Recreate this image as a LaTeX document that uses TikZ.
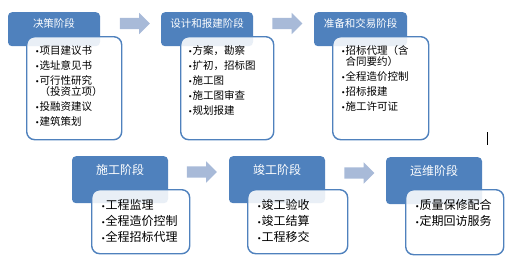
\documentclass[tikz,border=0pt]{standalone}
\usepackage{fontspec}
\setmainfont{Noto Sans CJK SC}
\newfontfamily\bulfont{DejaVu Sans}
\usetikzlibrary{shapes.arrows,positioning}

\definecolor{stageblue}{RGB}{79,129,189}
\definecolor{flowblue}{RGB}{168,186,216}
\newcommand{\bul}{{\bulfont\fontsize{7.5}{7.5}\selectfont •}}

\begin{document}
\begin{tikzpicture}[x=1pt, y=-1pt,
  stage/.style={rectangle, fill=stageblue, rounded corners=4pt, text=white, anchor=north,
                inner xsep=0pt, inner ysep=3pt},
  topstage/.style={stage, minimum width=92pt, font=\fontsize{10.5}{12}\selectfont,
                   text height=12pt, text depth=16pt},
  lowstage/.style={stage, minimum width=96pt, font=\fontsize{12}{14}\selectfont,
                   text height=15.6pt, text depth=25.4pt},
  panel/.style={rectangle, draw=stageblue, line width=1.4pt, fill=white, fill opacity=0.88,
                rounded corners=8pt, anchor=north west, inner sep=0pt},
  items/.style={align=left, inner sep=0pt},
  topitems/.style={items, font=\fontsize{10.5}{11.5}\selectfont},
  lowitems/.style={items, font=\fontsize{12}{16}\selectfont},
  flow/.style={single arrow, fill=flowblue, minimum height=30pt, inner xsep=0pt,
               inner ysep=5.5pt, single arrow head extend=5pt},
]
\useasboundingbox (0,0) rectangle (515,265);

% upper row
\node[topstage] (s1) at (54,12) {决策阶段};
\node[topstage] (s2) at (207,12) {设计和报建阶段};
\node[topstage, minimum width=93pt] (s3) at (360.5,12) {准备和交易阶段};

\node[panel, minimum width=95pt, minimum height=103pt] (p1) at (26,36) {};
\node[panel, minimum width=93pt, minimum height=103pt] (p2) at (180,36) {};
\node[panel, minimum width=96pt, minimum height=103pt] (p3) at (332,36) {};

\node[topitems, below right=9pt and 9pt of p1.north west] (t1)
  {\bul{}项目建议书\\[3.5pt]\bul{}选址意见书\\[3.5pt]\bul{}可行性研究\\\hphantom{\bul}（投资立项）\\[3.5pt]\bul{}投融资建议\\[3.5pt]\bul{}建筑策划};
\node[topitems, below right=9pt and 8pt of p2.north west] (t2)
  {\bul{}方案，勘察\\[3.5pt]\bul{}扩初，招标图\\[3.5pt]\bul{}施工图\\[3.5pt]\bul{}施工图审查\\[3.5pt]\bul{}规划报建};
\node[topitems, below right=9pt and 9pt of p3.north west] (t3)
  {\bul{}招标代理（含\\\hphantom{\bul}合同要约）\\[3.5pt]\bul{}全程造价控制\\[3.5pt]\bul{}招标报建\\[3.5pt]\bul{}施工许可证};

\node[flow] (f1) at (132,23.5) {};
\node[flow] (f2) at (284.5,23.5) {};

% lower row
\node[lowstage] (s4) at (120,156) {施工阶段};
\node[lowstage] (s5) at (277,156) {竣工阶段};
\node[lowstage] (s6) at (434,157) {运维阶段};

\node[panel, minimum width=98pt, minimum height=64pt] (p4) at (91,189) {};
\node[panel, minimum width=100pt, minimum height=64pt] (p5) at (247,189) {};
\node[panel, minimum width=98pt, minimum height=65pt] (p6) at (405,189) {};

\node[lowitems, below right=10pt and 10pt of p4.north west] (t4)
  {\bul{}工程监理\\\bul{}全程造价控制\\\bul{}全程招标代理};
\node[lowitems, below right=10pt and 10pt of p5.north west] (t5)
  {\bul{}竣工验收\\\bul{}竣工结算\\\bul{}工程移交};
\node[lowitems, below right=10pt and 10pt of p6.north west] (t6)
  {\bul{}质量保修配合\\\bul{}定期回访服务};

\node[flow] (f3) at (199,172) {};
\node[flow] (f4) at (356.5,173) {};

\draw[line width=1pt] (487,132) -- (487,145);

\end{tikzpicture}
\end{document}
